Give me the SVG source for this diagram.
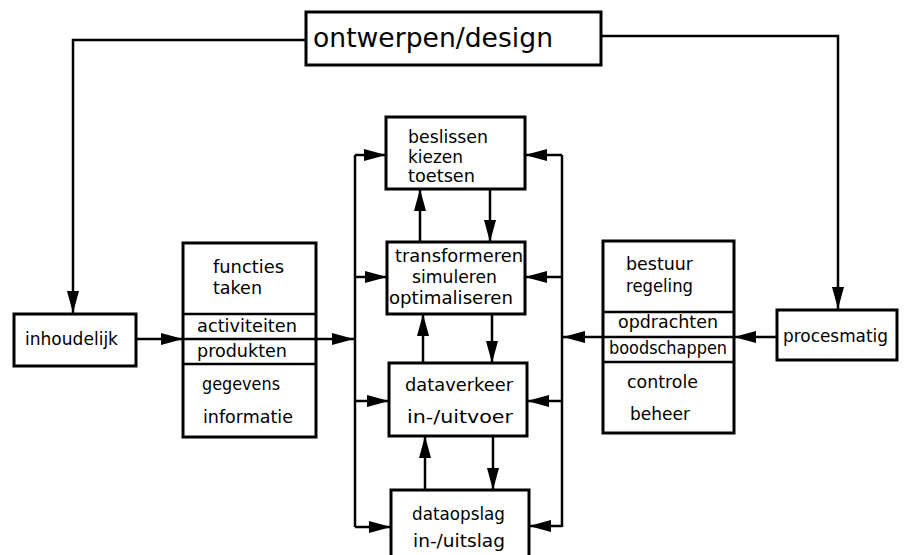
<svg xmlns="http://www.w3.org/2000/svg" width="904" height="555" viewBox="0 0 904 555">
<style>
.box{fill:#fff;stroke:#000;stroke-width:3}
.sep{stroke:#000;stroke-width:2.5}
.c{fill:none;stroke:#000;stroke-width:2.5}
text{font-family:"DejaVu Sans","Liberation Sans",sans-serif;font-size:17px;fill:#000}
.big{font-size:27px}
</style>
<defs>
<marker id="a" markerUnits="userSpaceOnUse" markerWidth="22" markerHeight="12" refX="22" refY="6" orient="auto">
<path d="M0,0 L22,6 L0,12 Z" fill="#000"/>
</marker>
</defs>
<rect width="904" height="555" fill="#fff"/>
<g id="connectors">
<path class="c" d="M306,40 H73 V313" marker-end="url(#a)"/>
<path class="c" d="M601,36 H838 V309" marker-end="url(#a)"/>
<path class="c" d="M136,339 H183" marker-end="url(#a)"/>
<path class="c" d="M183,339 H354" marker-end="url(#a)"/>
<path class="c" d="M777,337 H734" marker-end="url(#a)"/>
<path class="c" d="M734,337 H563" marker-end="url(#a)"/>
<path class="c" d="M355,155 V527"/>
<path class="c" d="M562,155 V527"/>
<path class="c" d="M355,155 H386" marker-end="url(#a)"/>
<path class="c" d="M355,277 H387" marker-end="url(#a)"/>
<path class="c" d="M355,401 H389" marker-end="url(#a)"/>
<path class="c" d="M355,527 H391" marker-end="url(#a)"/>
<path class="c" d="M562,155 H525" marker-end="url(#a)"/>
<path class="c" d="M562,277 H525" marker-end="url(#a)"/>
<path class="c" d="M562,401 H527" marker-end="url(#a)"/>
<path class="c" d="M562,526 H529" marker-end="url(#a)"/>
<path class="c" d="M420,242 V189" marker-end="url(#a)"/>
<path class="c" d="M490,189 V242" marker-end="url(#a)"/>
<path class="c" d="M423,363 V314" marker-end="url(#a)"/>
<path class="c" d="M492,314 V363" marker-end="url(#a)"/>
<path class="c" d="M425,490 V436" marker-end="url(#a)"/>
<path class="c" d="M493,436 V490" marker-end="url(#a)"/>
</g>
<g id="design">
<rect class="box" x="306" y="12" width="295" height="53"/>
<text class="big" x="313" y="47" textLength="240" lengthAdjust="spacingAndGlyphs">ontwerpen/design</text>
</g>
<g id="inhoudelijk">
<rect class="box" x="14" y="314" width="122" height="52"/>
<text x="25" y="345" textLength="93" lengthAdjust="spacingAndGlyphs">inhoudelijk</text>
</g>
<g id="procesmatig">
<rect class="box" x="777" y="310" width="120" height="50"/>
<text x="783" y="342" textLength="105" lengthAdjust="spacingAndGlyphs">procesmatig</text>
</g>
<g id="functies">
<rect class="box" x="183" y="243" width="133" height="194" style="fill:none"/>
<line class="sep" x1="183" y1="314" x2="316" y2="314"/>
<line class="sep" x1="183" y1="364" x2="316" y2="364"/>
<text x="213" y="273" textLength="71" lengthAdjust="spacingAndGlyphs">functies</text>
<text x="213" y="294" textLength="49" lengthAdjust="spacingAndGlyphs">taken</text>
<text x="197" y="332" textLength="100" lengthAdjust="spacingAndGlyphs">activiteiten</text>
<text x="197" y="357" textLength="90" lengthAdjust="spacingAndGlyphs">produkten</text>
<text x="202" y="390" textLength="78" lengthAdjust="spacingAndGlyphs">gegevens</text>
<text x="203" y="423" textLength="90" lengthAdjust="spacingAndGlyphs">informatie</text>
</g>
<g id="bestuur">
<rect class="box" x="603" y="241" width="131" height="192" style="fill:none"/>
<line class="sep" x1="603" y1="312" x2="734" y2="312"/>
<line class="sep" x1="603" y1="362" x2="734" y2="362"/>
<text x="626" y="270" textLength="67" lengthAdjust="spacingAndGlyphs">bestuur</text>
<text x="626" y="292" textLength="67" lengthAdjust="spacingAndGlyphs">regeling</text>
<text x="618" y="328" textLength="100" lengthAdjust="spacingAndGlyphs">opdrachten</text>
<text x="609" y="354" textLength="118" lengthAdjust="spacingAndGlyphs">boodschappen</text>
<text x="627" y="388" textLength="71" lengthAdjust="spacingAndGlyphs">controle</text>
<text x="630" y="420" textLength="60" lengthAdjust="spacingAndGlyphs">beheer</text>
</g>
<g id="beslissen">
<rect class="box" x="386" y="117" width="139" height="72"/>
<text x="408" y="143" textLength="80" lengthAdjust="spacingAndGlyphs">beslissen</text>
<text x="408" y="163" textLength="55" lengthAdjust="spacingAndGlyphs">kiezen</text>
<text x="408" y="182" textLength="67" lengthAdjust="spacingAndGlyphs">toetsen</text>
</g>
<g id="transformeren">
<rect class="box" x="387" y="242" width="138" height="72"/>
<text x="395" y="262" textLength="128" lengthAdjust="spacingAndGlyphs">transformeren</text>
<text x="412" y="283" textLength="85" lengthAdjust="spacingAndGlyphs">simuleren</text>
<text x="389" y="304" textLength="124" lengthAdjust="spacingAndGlyphs">optimaliseren</text>
</g>
<g id="dataverkeer">
<rect class="box" x="389" y="363" width="138" height="73"/>
<text x="405" y="391" textLength="108" lengthAdjust="spacingAndGlyphs">dataverkeer</text>
<text x="407" y="423" textLength="106" lengthAdjust="spacingAndGlyphs">in-/uitvoer</text>
</g>
<g id="dataopslag">
<rect class="box" x="391" y="490" width="138" height="80"/>
<text x="412" y="520" textLength="93" lengthAdjust="spacingAndGlyphs">dataopslag</text>
<text x="413" y="547" textLength="92" lengthAdjust="spacingAndGlyphs">in-/uitslag</text>
</g>
</svg>
